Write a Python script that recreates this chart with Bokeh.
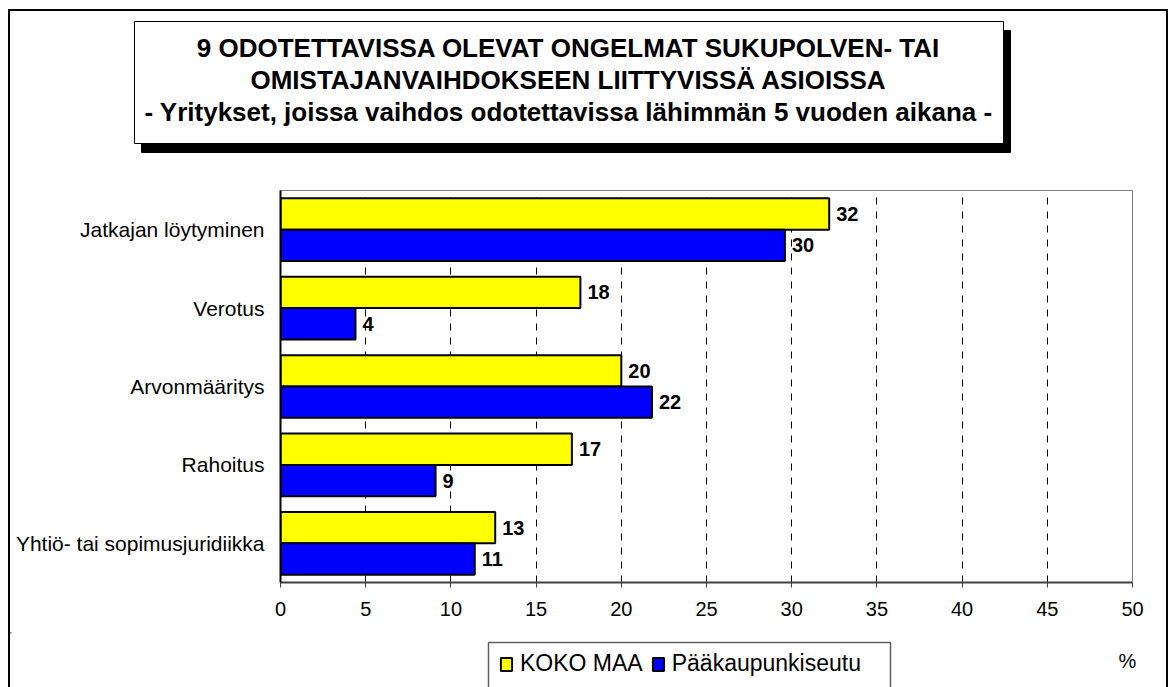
from bokeh.plotting import figure
from bokeh.layouts import column
from bokeh.models import (ColumnDataSource, FactorRange, Range1d, FixedTicker, Legend,
                          LegendItem)
from bokeh.transform import dodge
from bokeh.embed import file_html
from bokeh.resources import INLINE
from bokeh.core.properties import value

# ---- data -------------------------------------------------------------
categories = ["Jatkajan löytyminen", "Verotus", "Arvonmääritys", "Rahoitus",
              "Yhtiö- tai sopimusjuridiikka"]
koko_maa = [32.2, 17.6, 20.0, 17.1, 12.6]
paakaupunkiseutu = [29.6, 4.4, 21.8, 9.1, 11.4]
koko_maa_labels = ["32", "18", "20", "17", "13"]
paakaupunkiseutu_labels = ["30", "4", "22", "9", "11"]
series_names = ["KOKO MAA", "Pääkaupunkiseutu"]
x_ticks = [0, 5, 10, 15, 20, 25, 30, 35, 40, 45, 50]
title_lines = ["9 ODOTETTAVISSA OLEVAT ONGELMAT SUKUPOLVEN- TAI",
               "OMISTAJANVAIHDOKSEEN LIITTYVISSÄ ASIOISSA",
               "- Yritykset, joissa vaihdos odotettavissa lähimmän 5 vuoden aikana -"]
unit_label = "%"

FONT = "Liberation Sans"
YELLOW = "#FFFF00"
BLUE = "#0000FF"
CW = 1156          # content width inside the outer border
TOP_H, MAIN_H, BOT_H = 179, 442, 55


def blank_fig(h):
    f = figure(width=CW, height=h, x_range=Range1d(0, CW), y_range=Range1d(h, 0),
               x_axis_type=None, y_axis_type=None, output_backend="svg",
               toolbar_location=None, min_border=0, frame_align=False)
    f.outline_line_color = None
    f.grid.visible = False
    f.background_fill_color = "white"
    f.border_fill_color = "white"
    return f


# ---- title area -------------------------------------------------------
top = blank_fig(TOP_H)
top.quad(left=131, right=1000, top=19, bottom=141, fill_color="black",
         line_color="black")
top.quad(left=124, right=993, top=10, bottom=132, fill_color="white",
         line_color="black", line_width=1)
top.text(x=[558] * 3, y=[36, 68, 100], text=title_lines, text_align="center",
         text_baseline="middle", text_font=value(FONT), text_font_style="bold",
         text_font_size="26px", text_color="black")

# ---- main chart -------------------------------------------------------
src = ColumnDataSource(dict(cat=categories, koko=koko_maa, pk=paakaupunkiseutu,
                            koko_lbl=koko_maa_labels, pk_lbl=paakaupunkiseutu_labels))

p = figure(width=CW, height=MAIN_H,
           y_range=FactorRange(factors=categories[::-1], range_padding=0, factor_padding=0),
           x_range=Range1d(0, 50),
           output_backend="svg", toolbar_location=None, frame_align=False,
           min_border_left=270, min_border_right=34, min_border_top=0,
           min_border_bottom=50)
p.background_fill_color = "white"
p.border_fill_color = "white"
p.outline_line_color = "#808080"
p.outline_line_width = 1

r1 = p.hbar(y=dodge("cat", 0.2, range=p.y_range), right="koko", left=0, height=0.4,
            fill_color=YELLOW, line_color="black", line_width=2, source=src)
r2 = p.hbar(y=dodge("cat", -0.2, range=p.y_range), right="pk", left=0, height=0.4,
            fill_color=BLUE, line_color="black", line_width=2, source=src)

for col_x, col_t, dy in (("koko", "koko_lbl", 0.2), ("pk", "pk_lbl", -0.2)):
    p.text(x=col_x, y=dodge("cat", dy, range=p.y_range), text=col_t, source=src,
           x_offset=7, text_baseline="middle", text_align="left",
           text_font=value(FONT), text_font_style="bold", text_font_size="20px",
           text_color="black")

p.xaxis.ticker = FixedTicker(ticks=x_ticks)
p.xaxis.axis_line_color = "#404040"
p.xaxis.axis_line_width = 2
p.xaxis.major_tick_out = 5
p.xaxis.major_tick_in = 0
p.xaxis.major_tick_line_color = "#404040"
p.xaxis.minor_tick_line_color = None
p.xaxis.major_label_text_font = FONT
p.xaxis.major_label_text_font_size = "20px"
p.xaxis.major_label_text_color = "black"
p.xaxis.major_label_standoff = 14

p.yaxis.axis_line_color = "black"
p.yaxis.axis_line_width = 2
p.yaxis.major_tick_line_color = None
p.yaxis.minor_tick_line_color = None
p.yaxis.major_label_text_font = FONT
p.yaxis.major_label_text_font_size = "21px"
p.yaxis.major_label_text_color = "black"
p.yaxis.major_label_standoff = 10

p.ygrid.grid_line_color = None
p.xgrid.ticker = FixedTicker(ticks=x_ticks[1:-1])
p.xgrid.grid_line_color = "black"
p.xgrid.grid_line_width = 1
p.xgrid.grid_line_dash = "7 7"

# ---- legend / unit area ----------------------------------------------
bot = blank_fig(BOT_H)
# proxy renderers (a single point far outside the visible area) for the legend
lr1 = bot.hbar(y=[-500], left=[-900], right=[-800], height=1, fill_color=YELLOW,
               line_color="black", line_width=2)
lr2 = bot.hbar(y=[-500], left=[-900], right=[-800], height=1, fill_color=BLUE,
               line_color="black", line_width=2)
bot.multi_line(xs=[[478, 478, 880, 880]], ys=[[70, 10, 10, 70]], line_color="#606060",
               line_width=1.5)
legend = Legend(items=[LegendItem(label=series_names[0], renderers=[lr1]),
                       LegendItem(label=series_names[1], renderers=[lr2])],
                location=(489, 10), orientation="horizontal",
                border_line_color=None, background_fill_alpha=0,
                label_text_font=FONT, label_text_font_size="23px",
                label_text_color="black", label_height=16,
                glyph_width=14, glyph_height=16, label_standoff=7, spacing=8,
                padding=0, margin=0)
bot.add_layout(legend)
bot.text(x=[1117], y=[28], text=[unit_label], text_align="center",
         text_baseline="middle", text_font=value(FONT), text_font_size="20px",
         text_color="black")

layout = column(top, p, bot, spacing=0,
                styles={"margin-left": "8px", "margin-top": "9px",
                        "border-left": "2px solid black",
                        "border-right": "2px solid black",
                        "border-top": "2px solid black"})

open("out.html", "w").write(file_html(layout, INLINE))
